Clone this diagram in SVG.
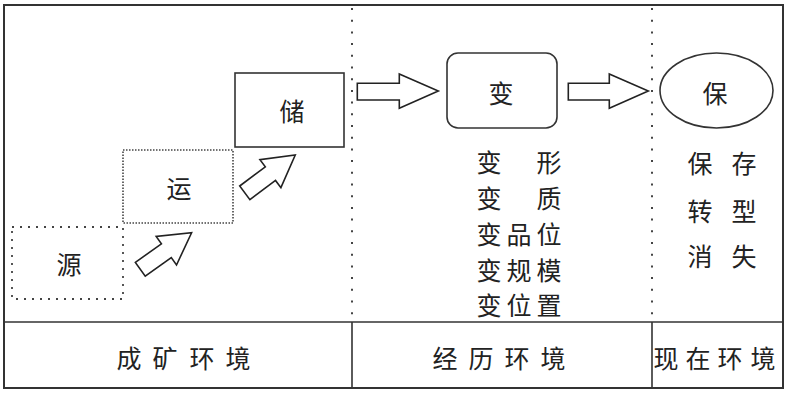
<svg xmlns="http://www.w3.org/2000/svg" width="787" height="395" viewBox="0 0 787 395">
<style>
text{font-family:"Noto Sans CJK SC","Noto Sans CJK TC",sans-serif;font-size:25px;fill:#222;text-anchor:middle;dominant-baseline:central}
.frame{fill:none;stroke:#333;stroke-width:2}
.sep{fill:none;stroke:#333;stroke-width:1.6}
.vdot{fill:none;stroke:#444;stroke-width:2;stroke-dasharray:2 9.7}
.box{fill:#fff;stroke:#333;stroke-width:1.6}
.arrow{fill:#fff;stroke:#222;stroke-width:1.6;stroke-linejoin:miter}
</style>
<rect x="0" y="0" width="787" height="395" fill="#fff"/>
<g id="frame">
<rect class="frame" x="4" y="5" width="779" height="383"/>
<line class="sep" x1="4" y1="322" x2="783" y2="322"/>
<line class="sep" x1="352" y1="322" x2="352" y2="388"/>
<line class="sep" x1="652" y1="322" x2="652" y2="388"/>
<line class="vdot" x1="352" y1="8" x2="352" y2="321"/>
<line class="vdot" x1="652" y1="8" x2="652" y2="321"/>
</g>
<g id="connectors">
<path class="arrow" d="M357.3,83.3 L399.3,83.3 L399.3,74 L438.3,91 L399.3,108.3 L399.3,100 L357.3,100 Z"/>
<path class="arrow" d="M568.3,83.3 L609.3,83.3 L609.3,74 L648.3,91 L609.3,108.3 L609.3,100 L568.3,100 Z"/>
<path class="arrow" transform="translate(140.3,269.3) rotate(-35.5)" d="M0,-8.5 L32,-8.5 L32,-17.5 L63,0 L32,17.5 L32,8.5 L0,8.5 Z"/>
<path class="arrow" transform="translate(244.8,192.8) rotate(-36.8)" d="M0,-8.5 L32,-8.5 L32,-17.5 L63,0 L32,17.5 L32,8.5 L0,8.5 Z"/>
</g>
<g id="node-yuan">
<rect x="12" y="227" width="111" height="72" fill="#fff" stroke="#444" stroke-width="1.8" stroke-dasharray="2 6"/>
<text x="69" y="263">源</text>
</g>
<g id="node-yun">
<rect x="123" y="150" width="110" height="73" fill="#fff" stroke="#444" stroke-width="1.6" stroke-dasharray="1.5 1.5"/>
<text x="179" y="187">运</text>
</g>
<g id="node-chu">
<rect class="box" x="235" y="73" width="109" height="74"/>
<text x="292" y="110">储</text>
</g>
<g id="node-bian">
<rect class="box" x="447" y="53" width="110" height="75" rx="11" ry="11"/>
<text x="501" y="92">变</text>
</g>
<g id="node-bao">
<ellipse class="box" cx="716.5" cy="90.5" rx="56.5" ry="37.5"/>
<text x="715" y="92">保</text>
</g>
<g id="bian-list">
<text x="489 549" y="161">变形</text>
<text x="489 549" y="197">变质</text>
<text x="489 519 549" y="233">变品位</text>
<text x="489 519 549" y="269">变规模</text>
<text x="489 519 549" y="304">变位置</text>
</g>
<g id="bao-list">
<text x="700 744" y="162">保存</text>
<text x="700 744" y="210">转型</text>
<text x="700 744" y="255">消失</text>
</g>
<g id="env-labels">
<text x="129 165 202 238" y="357">成矿环境</text>
<text x="445 481 517 553" y="357">经历环境</text>
<text x="666 698 730 763" y="357">现在环境</text>
</g>
</svg>
